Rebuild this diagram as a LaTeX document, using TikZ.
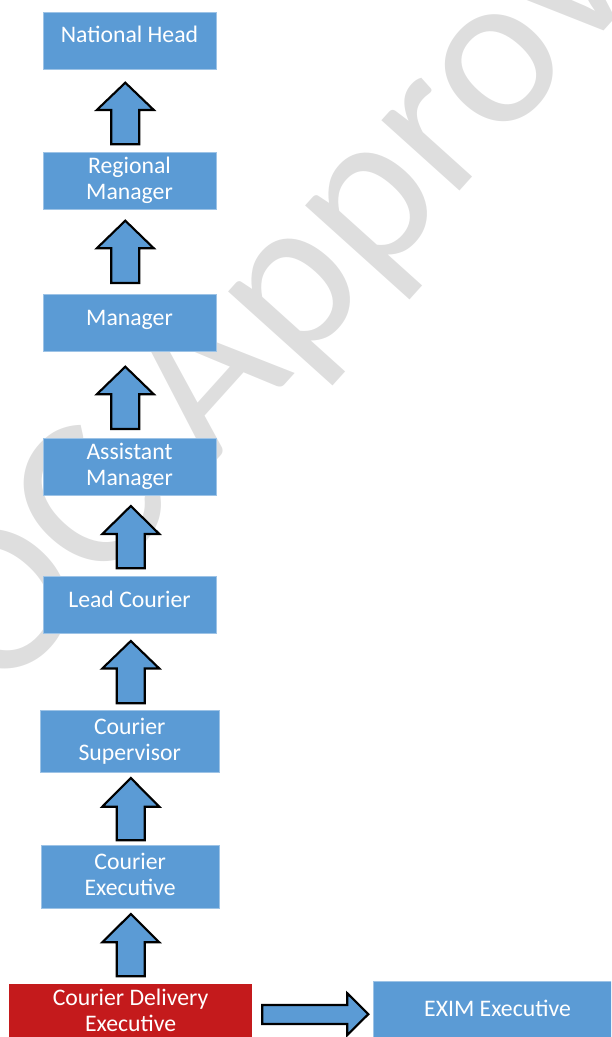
\documentclass[tikz,border=0pt]{standalone}
\usepackage{fontspec}
\setmainfont{Carlito}
\definecolor{boxblue}{HTML}{5B9BD5}
\definecolor{boxedge}{HTML}{9DC3E6}
\definecolor{boxred}{HTML}{C41A1C}
\definecolor{wmgray}{HTML}{DEDEDE}
\tikzset{
  orgbox/.style={rectangle, fill=boxblue, draw=boxedge, line width=0.5pt, inner sep=0pt,
    text=white, align=center, font=\fontsize{17.8pt}{19.5pt}\selectfont,
    minimum width=129.75pt, minimum height=42.75pt},
  oneline/.style={text height=9pt, text depth=6pt},
  twoline/.style={text height=34pt, text depth=5.5pt},
  redbox/.style={orgbox, fill=boxred, draw=boxred},
  blockarrow/.style={fill=boxblue, draw=black, line width=1.6pt, line join=miter},
  wmark/.style={text=wmgray, font=\fontsize{165pt}{165pt}\selectfont, inner sep=0pt}
}
\newcommand\blkup[4]{\draw[blockarrow] (#1-14,#4) -- (#1-14,#3) -- (#1-28.5,#3) -- (#1,#2) -- (#1+28.5,#3) -- (#1+14,#3) -- (#1+14,#4) -- cycle;}
\begin{document}
\begin{tikzpicture}[x=0.75pt,y=-0.75pt]
\useasboundingbox (0,0) rectangle (611,1037);
\clip (0,0) rectangle (611,1037);
% watermark
\node[wmark, rotate=48, anchor=base west] (wm) at (0,702) {QC Approved};
% boxes
\node[orgbox, oneline] (nh) at (129.5,40.8) {National Head};
\node[orgbox, twoline] (rm) at (129.5,180.8) {Regional\\Manager};
\node[orgbox, oneline] (mg) at (129.5,323) {Manager};
\node[orgbox, twoline] (am) at (129.5,466.9) {Assistant\\Manager};
\node[orgbox, oneline] (lc) at (129.5,605.2) {Lead Courier};
\node[orgbox, twoline, minimum width=134.5pt, minimum height=47pt] (cs) at (129.75,741.35) {Courier\\Supervisor};
\node[orgbox, twoline, minimum width=133.3pt, minimum height=47.25pt] (ce) at (130.15,876.8) {Courier\\Executive};
\node[redbox, twoline, minimum width=181.7pt, minimum height=42.75pt] (cde) at (130.55,1012.5) {Courier Delivery\\Executive};
\node[orgbox, oneline, minimum width=186.3pt, minimum height=48.75pt] (exim) at (497.5,1014) {EXIM Executive};
% block arrows
\blkup{125.3}{82.7}{110}{144.3}
\blkup{125.3}{220.7}{248.3}{283}
\blkup{125.3}{366.7}{394.3}{429}
\blkup{130.8}{506}{534}{568.3}
\blkup{130.8}{641}{668.5}{703.3}
\blkup{130.8}{778}{806.7}{840.3}
\blkup{130.8}{914}{942.3}{976.3}
\draw[blockarrow] (262.3,1005) -- (347.3,1005) -- (347.3,993.3) -- (368.3,1014.2) -- (347.3,1035) -- (347.3,1024) -- (262.3,1024) -- cycle;
\end{tikzpicture}
\end{document}
